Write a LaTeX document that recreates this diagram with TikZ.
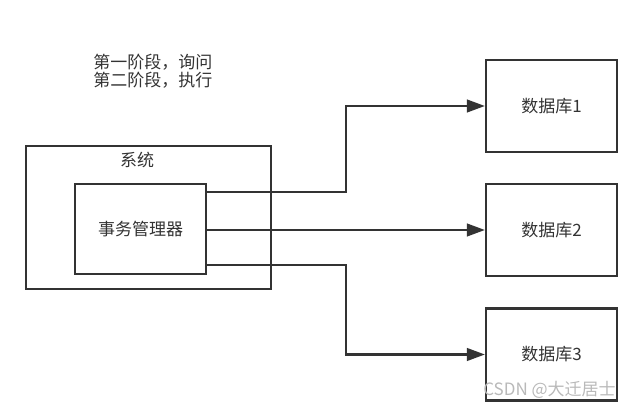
\documentclass[tikz,border=0pt]{standalone}
\usepackage{fontspec}
\setmainfont{Noto Sans CJK SC}
\usetikzlibrary{arrows.meta,positioning}
\definecolor{ink}{HTML}{333333}
\begin{document}
\begin{tikzpicture}[x=0.75pt, y=-0.75pt, box/.style={shape=rectangle,draw=ink,line width=1.7pt,inner sep=0,text=ink,font=\fontsize{12.75pt}{13.5pt}\selectfont}, arr/.style={draw=ink,line width=1.7pt,-{Triangle[length=13.5pt,width=9.5pt]}}, line join=miter, scale=1]
				\useasboundingbox (0,0) rectangle (632,409);
				\node[box, minimum width=183.75pt, minimum height=107.25pt] (sys) at (148.5,217.5) {};
				\node[text=ink, font=\fontsize{12.75pt}{13.5pt}\selectfont] (sysl) at (137,160) {系统};
				\node[box, fill=white, minimum width=98.25pt, minimum height=67.5pt] (tm) at (140.5,229) {事务管理器};
				\node[box, minimum width=98.25pt, minimum height=69pt] (db1) at (551.5,106) {数据库1};
				\node[box, minimum width=98.25pt, minimum height=69pt] (db2) at (551.5,230) {数据库2};
				\node[box, minimum width=98.25pt, minimum height=69pt] (db3) at (551.5,354.5) {数据库3};
				\node[anchor=west, align=left, text=ink, inner sep=0, font=\fontsize{12.75pt}{13.5pt}\selectfont] (note) at (93,71) {第一阶段，询问\\第二阶段，执行};
				\coordinate (k1) at (346,106);
				\coordinate (k3) at (346,354.5);
				\draw[arr] ([yshift=27.75pt]tm.east) -| (k1) -- (db1.west);
				\draw[arr] (tm.east |- db2.west) -- (db2.west);
				\draw[arr] ([yshift=-27pt]tm.east) -| (k3) -- (db3.west);
				\node[anchor=east, text=gray!55, inner sep=0, font=\fontsize{12.75pt}{13.5pt}\selectfont] (wm) at (616,390) {CSDN @大迁居士};
			\end{tikzpicture}
\end{document}
